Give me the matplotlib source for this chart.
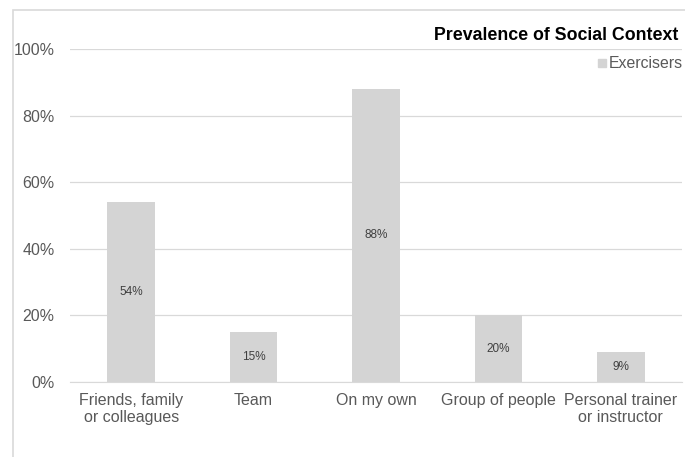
import matplotlib.pyplot as plt
from matplotlib.patches import Rectangle

categories = ["Friends, family\nor colleagues", "Team", "On my own",
              "Group of people", "Personal trainer\nor instructor"]
values = [54, 15, 88, 20, 9]
series_name = "Exercisers"
yticks = [0, 20, 40, 60, 80, 100]

plt.rcParams['font.family'] = ['Liberation Sans', 'DejaVu Sans']

W, H = 685, 457
fig = plt.figure(figsize=(W / 100, H / 100), dpi=100)

# outer chart frame
fig.patches.append(Rectangle((13 / W, -0.1), 1.2, (H - 10) / H + 0.1,
                             transform=fig.transFigure, fill=False,
                             edgecolor='#d9d9d9', linewidth=1.2))

ax = fig.add_axes([70 / W, 1 - 382 / H, (682 - 70) / W, (382 - 49) / H])
x = range(len(categories))
bar_color = '#d4d4d4'
ax.bar(x, values, width=0.39, color=bar_color, zorder=2)
for xi, v in zip(x, values):
    ax.text(xi, v / 2, f"{v}%", ha='center', va='center', fontsize=8.5,
            color='#404040', zorder=3)

ax.set_ylim(0, 100)
ax.set_xlim(-0.5, len(categories) - 0.5)
ax.set_yticks(yticks)
ax.set_yticklabels([f"{t}%" for t in yticks])
ax.set_xticks(list(x))
ax.set_xticklabels(categories, linespacing=1.15)
ax.yaxis.grid(True, color='#d9d9d9', linewidth=0.9, zorder=0)
ax.tick_params(axis='both', length=0, labelsize=11.5, colors='#595959')
ax.tick_params(axis='y', pad=11)
ax.tick_params(axis='x', pad=8)
for s in ['top', 'right', 'left']:
    ax.spines[s].set_visible(False)
ax.spines['bottom'].set_color('#d9d9d9')

fig.text(678 / W, 1 - 35 / H, "Prevalence of Social Context", ha='right',
         va='center', fontsize=12.8, fontweight='bold', color='black')
fig.patches.append(Rectangle((598 / W, 1 - 67 / H), 8 / W, 8 / H,
                             transform=fig.transFigure, color=bar_color))
fig.text(683 / W, 1 - 63 / H, series_name, ha='right', va='center',
         fontsize=11.4, color='#595959')

fig.savefig('out.png', dpi=100)
